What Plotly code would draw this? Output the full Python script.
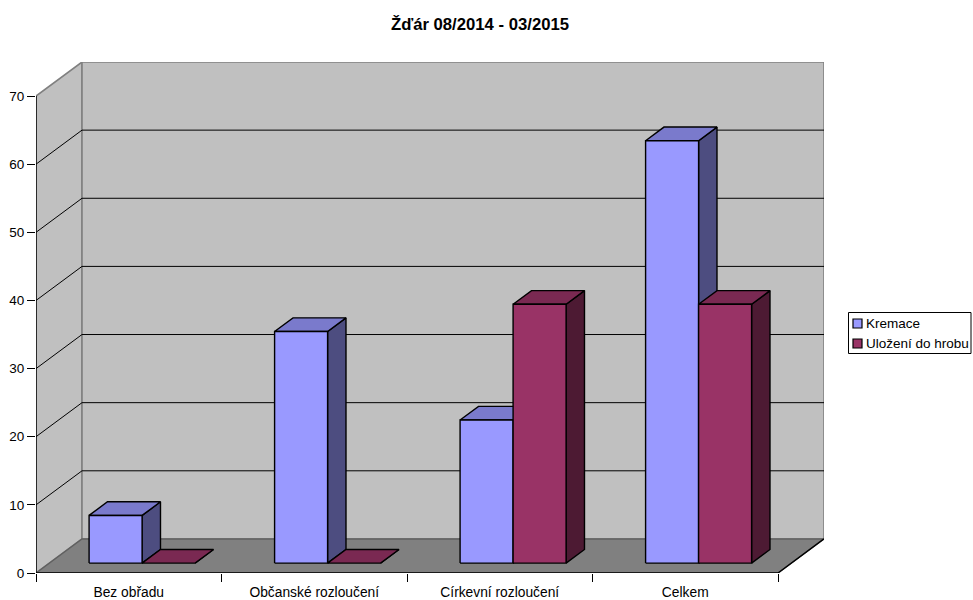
import plotly.graph_objects as go

categories = ["Bez obřadu", "Občanské rozloučení", "Církevní rozloučení", "Celkem"]
kremace = [7, 34, 21, 62]
ulozeni = [0, 0, 38, 38]
y_ticks = [0, 10, 20, 30, 40, 50, 60, 70]
series_names = ["Kremace", "Uložení do hrobu"]

FONT = "Liberation Sans"
Y_MAX = 70
N = len(categories)

# oblique projection: depth 1 = the whole floor, in axis units
DX = 46 / 185.5
DY = 5
BAR_W = 1 / 3.5
BAR_OFF = 0.75 / 3.5
D0, D1 = 0.29, 0.69

COLORS = {
    "kremace": ("#9999FF", "#7A7ACC", "#4D4D80"),
    "ulozeni": ("#993366", "#7A2952", "#4D1A33"),
}

fig = go.Figure()


def project(x, y, d):
    return x + d * DX, y + d * DY


def poly(points, fill, line="#000000", width=1.4):
    xs, ys = zip(*[project(*p) for p in points])
    fig.add_trace(go.Scatter(
        x=list(xs) + [xs[0]], y=list(ys) + [ys[0]], mode="lines", fill="toself",
        fillcolor=fill, line=dict(color=line, width=width), hoverinfo="skip", showlegend=False,
    ))


def path(points, color, width=1):
    xs, ys = zip(*[project(*p) for p in points])
    fig.add_trace(go.Scatter(
        x=xs, y=ys, mode="lines", line=dict(color=color, width=width), hoverinfo="skip", showlegend=False,
    ))


def bar3d(x0, x1, value, colors):
    front, top, side = colors
    poly([(x1, 0, D0), (x1, 0, D1), (x1, value, D1), (x1, value, D0)], side)
    poly([(x0, value, D0), (x1, value, D0), (x1, value, D1), (x0, value, D1)], top)
    if value > 0:
        poly([(x0, 0, D0), (x1, 0, D0), (x1, value, D0), (x0, value, D0)], front)


# walls and floor
poly([(0, 0, 0), (0, 0, 1), (0, Y_MAX, 1), (0, Y_MAX, 0)], "#C0C0C0", "#808080", 1.6)
poly([(0, 0, 1), (N, 0, 1), (N, Y_MAX, 1), (0, Y_MAX, 1)], "#C0C0C0", "#808080", 1.6)
poly([(0, 0, 0), (N, 0, 0), (N, 0, 1), (0, 0, 1)], "#808080", "#606060", 1.4)
for v in y_ticks[1:-1]:
    path([(0, v, 0), (0, v, 1), (N, v, 1)], "#000000")

# axis lines and the front edges of the floor
path([(0, 0, 0), (0, Y_MAX, 0)], "#000000", 1.4)
path([(0, 0, 0), (N, 0, 0), (N, 0, 1)], "#000000", 1.4)

for i in range(N):
    left = i + BAR_OFF
    bar3d(left, left + BAR_W, kremace[i], COLORS["kremace"])
    bar3d(left + BAR_W, left + 2 * BAR_W, ulozeni[i], COLORS["ulozeni"])


def px_x(p):
    return (p - 36) / 788


def px_y(p):
    return (573 - p) / 511


# legend box
shapes = [dict(type="rect", xref="paper", yref="paper", x0=px_x(848.5), x1=px_x(971), y0=px_y(353.5), y1=px_y(312.5),
               line=dict(color="#000000", width=1), fillcolor="#FFFFFF")]
annotations = []
for name, key, cy in zip(series_names, ["kremace", "ulozeni"], [323.5, 343.5]):
    shapes.append(dict(type="rect", xref="paper", yref="paper", x0=px_x(853), x1=px_x(862), y0=px_y(cy + 4.5), y1=px_y(cy - 4.5),
                       line=dict(color="#000000", width=1.2), fillcolor=COLORS[key][0]))
    annotations.append(dict(text=name, xref="paper", yref="paper", x=px_x(865), y=px_y(cy), xanchor="left", yanchor="middle",
                            showarrow=False, borderpad=0, font=dict(family=FONT, size=13.5, color="#000000")))

fig.update_layout(
    width=973,
    height=600,
    autosize=False,
    margin=dict(l=36, r=149, t=62, b=27, autoexpand=False),
    paper_bgcolor="#FFFFFF",
    plot_bgcolor="#FFFFFF",
    showlegend=False,
    title=dict(text="<b>Žďár 08/2014 - 03/2015</b>", x=480 / 973, xanchor="center", y=1 - 24 / 600, yanchor="middle",
               font=dict(family=FONT, size=16.7, color="#000000")),
    shapes=shapes,
    annotations=annotations,
    xaxis=dict(
        range=[0, N + DX], automargin=False, showgrid=False, zeroline=False, showline=False,
        tickvals=[i + 0.5 for i in range(N)], ticktext=categories,
        ticks="outside", ticklen=6, tickcolor="rgba(0,0,0,0)",
        tickfont=dict(family=FONT, size=13.8, color="#000000"),
        minor=dict(tickvals=list(range(N + 1)), ticks="outside", ticklen=8, tickcolor="#000000", tickwidth=1, showgrid=False),
    ),
    yaxis=dict(
        range=[0, Y_MAX + DY], automargin=False, showgrid=False, zeroline=False, showline=False,
        tickvals=y_ticks, ticks="outside", ticklen=8, tickcolor="#000000", tickwidth=1,
        tickfont=dict(family=FONT, size=13.5, color="#000000"),
    ),
)

# the default page has an 8px body margin, which would shift and clip the figure
fig.write_html("out.html", config={"displayModeBar": False},
               post_script="document.body.style.margin='0';document.documentElement.style.overflow='hidden';")
